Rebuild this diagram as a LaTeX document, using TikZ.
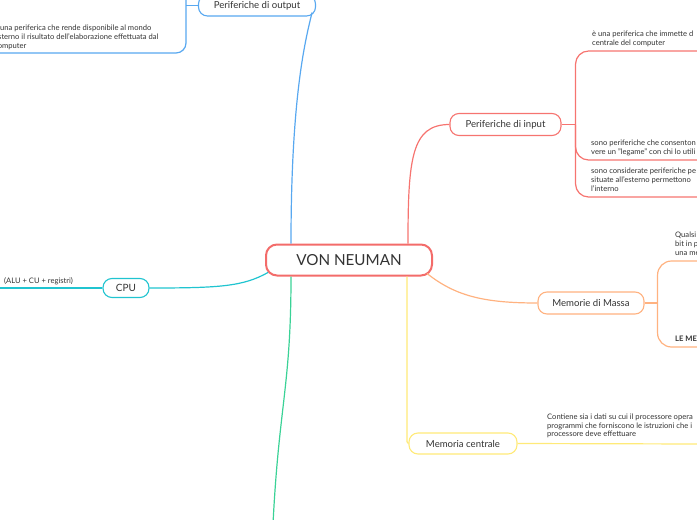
\documentclass[tikz,border=0pt]{standalone}
\usepackage{fontspec}
\setmainfont{Lato}
\usepackage{tikz}
\usetikzlibrary{calc}
\definecolor{VNred}{RGB}{243,108,106}
\definecolor{OutBlue}{RGB}{88,168,240}
\definecolor{InRed}{RGB}{246,116,112}
\definecolor{MassOr}{RGB}{255,178,128}
\definecolor{CpuCyan}{RGB}{32,196,208}
\definecolor{MemYel}{RGB}{255,234,120}
\definecolor{ExtGreen}{RGB}{58,210,150}
\definecolor{TxtGray}{RGB}{51,51,51}
\tikzset{
  topic/.style={rectangle,rounded corners=9pt,draw,line width=1.1pt,fill=white,
                text=TxtGray,font=\fontsize{9.6}{11}\selectfont,
                minimum height=22pt,inner sep=0pt},
  root/.style={topic,rounded corners=11pt,line width=2pt,minimum height=31pt,
               font=\fontsize{15.2}{17}\selectfont},
  note/.style={anchor=north west,align=left,inner sep=0pt,text=TxtGray,
               font=\fontsize{7.6}{8.8}\selectfont},
  link/.style={line width=1.2pt},
}

\begin{document}
\begin{tikzpicture}[x=1pt,y=-1pt]
  \useasboundingbox (0,0) rectangle (697,520);
  \clip (0,0) rectangle (697,520);
  % topics
  \node[root,draw=VNred,minimum width=166pt] (vn) at (349,260) {VON NEUMAN};
  \node[topic,draw=OutBlue,minimum width=117pt,minimum height=21pt] (out) at (257,5.5) {Periferiche di output};
  \node[topic,draw=InRed,minimum width=111pt] (in) at (505.5,124.5) {Periferiche di input};
  \node[topic,draw=MassOr,minimum width=106pt] (massa) at (591,303) {Memorie di Massa};
  \node[topic,draw=CpuCyan,minimum width=46pt,minimum height=19pt,font=\fontsize{10}{11}\selectfont] (cpu) at (126,288) {CPU};
  \node[topic,draw=MemYel,minimum width=108pt,minimum height=21pt] (mc) at (463,443.5) {Memoria centrale};

  % branches from the root
  \coordinate (vnOut) at ($(vn.north west)+(26,0)$);
  \coordinate (vnIn)  at ($(vn.north east)+(-25,0)$);
  \coordinate (vnExt) at ($(vn.south west)+(26,0)$);
  \coordinate (vnMem) at ($(vn.south east)+(-26,0)$);
  \coordinate (extEnd) at (273,524);
  \draw[link,OutBlue] (vnOut) .. controls +(0,-150) and +(-6,25) .. ($(out.east)+(-4,7)$);
  \draw[link,InRed] (vnIn) .. controls +(0,-85) and +(-38,0) .. (in.west);
  \draw[link,MassOr] ($(vn.south east)+(-6,-3)$) .. controls +(28,22) and +(-55,0) .. (massa.west);
  \draw[link,CpuCyan] ($(vn.south west)+(3,-4)$) .. controls +(-25,14) and +(70,0) .. (cpu.east);
  \draw[link,ExtGreen] (vnExt) .. controls +(0,110) and +(6,-120) .. (extEnd);
  \draw[link,MemYel] (vnMem) -- ($(vnMem |- mc.west)+(0,-8)$) .. controls +(0,6) and +(-2,0) .. (mc.west);

  % sub-branches
  \coordinate (obTop) at (186,-8);
  \coordinate (obA) at (-6,53);
  \draw[link,OutBlue] (out.west) -- (out.west -| obTop);
  \draw[link,OutBlue,rounded corners=10pt] (obTop) |- (obA);

  \coordinate (ibJ) at ($(in.east)+(14,0)$);
  \coordinate (inA) at (700,51);
  \coordinate (inB) at (700,160);
  \coordinate (inC) at (700,197);
  \draw[link,InRed] (in.east) -- (ibJ);
  \draw[link,InRed,rounded corners=13pt] (ibJ) |- (inA);
  \draw[link,InRed,rounded corners=13pt] (ibJ) |- (inB);
  \draw[link,InRed,rounded corners=13pt] (ibJ) |- (inC);

  \coordinate (mbJ) at ($(massa.east)+(13,0)$);
  \coordinate (msA) at (700,261);
  \coordinate (msB) at (700,347);
  \draw[link,MassOr] (massa.east) -- (mbJ);
  \draw[link,MassOr,rounded corners=14pt] (mbJ) |- (msA);
  \draw[link,MassOr,rounded corners=14pt] (mbJ) |- (msB);

  \coordinate (cpA) at (-6,288);
  \draw[link,CpuCyan] (cpu.west) -- (cpA);
  \coordinate (mcA) at (700,444);
  \draw[link,MemYel] (mc.east) -- (mcA);

  % notes
  \node[note] (outNote) at (-6,25) {è una periferica che rende disponibile al mondo\\esterno il risultato dell'elaborazione effettuata dal\\computer};
  \node[note] (inNoteA) at (592,31) {è una periferica che immette d\\centrale del computer};
  \node[note] (inNoteB) at (591,140) {sono periferiche che consenton\\vere un "legame" con chi lo utili};
  \node[note] (inNoteC) at (591,168) {sono considerate periferiche pe\\situate all'esterno permettono\\l'interno};
  \node[note] (msNoteA) at (675,232) {Qualsi\\bit in p\\una me};
  \node[note,font=\fontsize{7.6}{8.8}\selectfont\bfseries] (msNoteB) at (675,336) {LE ME};
  \node[note] (cpuNote) at (4,277) {(ALU + CU + registri)};
  \node[note] (mcNote) at (547,413.5) {Contiene sia i dati su cui il processore opera\\programmi che forniscono le istruzioni che i\\processore deve effettuare};
\end{tikzpicture}
\end{document}
